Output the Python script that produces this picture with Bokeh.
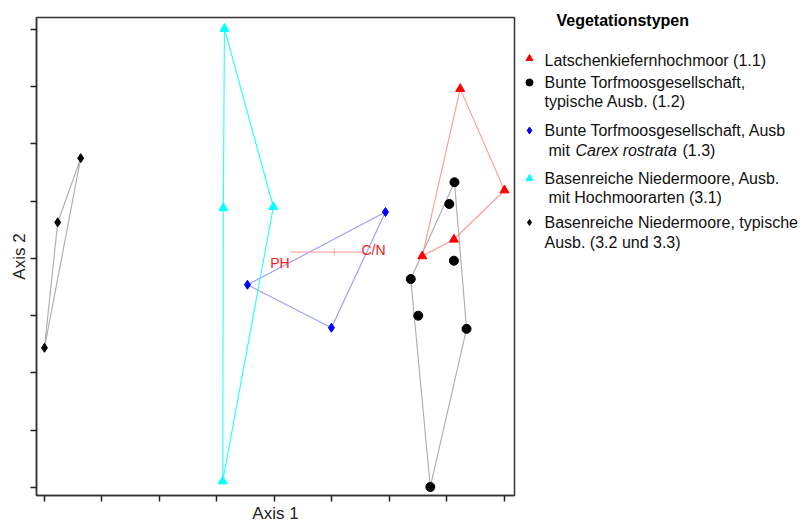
import numpy as np
from bokeh.plotting import figure
from bokeh.models import Range1d, FixedTicker, CustomJSTickFormatter
from bokeh.layouts import row, column
from bokeh.core.properties import value
from bokeh.embed import file_html
from bokeh.resources import INLINE

# ---------------- data (ordination scores) ----------------
# Latschenkiefernhochmoor (1.1)
lk_x = [7.23, 8.00, 7.12, 6.57]
lk_y = [6.96, 5.19, 4.33, 4.04]
lk_hull = [0, 1, 2, 3]
# Bunte Torfmoosgesellschaft, typische Ausb. (1.2)
bt_x = [7.13, 7.04, 7.12, 6.37, 6.50, 7.34, 6.71]
bt_y = [5.33, 4.95, 3.96, 3.64, 3.00, 2.77, 0.01]
bt_hull = [0, 5, 6, 3]
# Bunte Torfmoosgesellschaft, Ausb mit Carex rostrata (1.3)
cr_x = [5.93, 3.53, 4.99]
cr_y = [4.81, 3.54, 2.79]
cr_hull = [0, 1, 2]
# Basenreiche Niedermoore, Ausb. mit Hochmoorarten (3.1)
hm_x = [3.13, 3.11, 3.98, 3.10]
hm_y = [8.01, 4.88, 4.90, 0.11]
hm_hull = [0, 2, 3, 1]
# Basenreiche Niedermoore, typische Ausb. (3.2 und 3.3)
nt_x = [0.63, 0.23, 0.00]
nt_y = [5.75, 4.63, 2.44]
nt_hull = [0, 1, 2]

# environmental vectors (biplot)
env_origin = (5.04, 4.11)
env_names = ["PH", "C/N"]
env_end_x = [4.28, 5.53]
env_end_y = [4.11, 4.11]

ticks = [0, 1, 2, 3, 4, 5, 6, 7, 8]

FONT = "Liberation Sans"


def closed(xs, ys, order):
    ox = [xs[i] for i in order] + [xs[order[0]]]
    oy = [ys[i] for i in order] + [ys[order[0]]]
    return ox, oy


p = figure(width=520, height=525, output_backend="svg", toolbar_location=None,
           x_range=Range1d(-0.139, 8.174), y_range=Range1d(-0.139, 8.206),
           min_border_left=36, min_border_top=17, min_border_bottom=29,
           min_border_right=6, title=None)
p.grid.visible = False
p.outline_line_color = "#333333"
p.outline_line_width = 1.5
p.background_fill_color = "white"
p.border_fill_color = "white"

for ax in (p.xaxis[0], p.yaxis[0]):
    ax.ticker = FixedTicker(ticks=ticks)
    ax.formatter = CustomJSTickFormatter(code="return '';")
    ax.major_label_standoff = 0
    ax.major_tick_in = 0
    ax.major_tick_out = 6
    ax.minor_tick_in = 0
    ax.minor_tick_out = 0
    ax.axis_line_color = "#333333"
    ax.axis_line_width = 1.5
    ax.major_tick_line_color = "#222222"
    ax.major_tick_line_width = 1.5
    ax.axis_label_text_font = FONT
    ax.axis_label_text_font_size = "17px"
    ax.axis_label_text_font_style = "normal"
    ax.axis_label_text_color = "#222222"
    ax.axis_label_standoff = 2
p.xaxis.axis_label = "Axis 1"
p.yaxis.axis_label = "Axis 2"

# hull polygons
groups = [
    (lk_x, lk_y, lk_hull, "#ff9d9d", "red", "triangle", 9),
    (bt_x, bt_y, bt_hull, "#b0b0b0", "black", "circle", 9),
    (cr_x, cr_y, cr_hull, "#a0a0f0", "#0000ff", "diamond", 9),
    (hm_x, hm_y, hm_hull, "#33ffff", "#00ffff", "triangle", 9),
    (nt_x, nt_y, nt_hull, "#b0b0b0", "black", "diamond", 9),
]
for xs, ys, order, lc, mc, mk, sz in groups:
    hx, hy = closed(xs, ys, order)
    p.line(hx, hy, line_color=lc, line_width=1.2)
for xs, ys, order, lc, mc, mk, sz in groups:
    p.scatter(xs, ys, marker=mk, size=sz, fill_color=mc, line_color=mc)

# biplot vectors
for ex, ey in zip(env_end_x, env_end_y):
    p.line([env_origin[0], ex], [env_origin[1], ey], line_color="#ffaaaa", line_width=1.2)
p.scatter([env_origin[0]], [env_origin[1]], marker="dash", angle=np.pi / 2, size=7,
          line_color="#ffaaaa", line_width=1.2)
p.text([env_end_x[0]], [env_end_y[0]], text=[env_names[0]], text_align="right",
       text_baseline="top", y_offset=3, x_offset=-1, text_color="#ee2222",
       text_font=value(FONT), text_font_size="14px")
p.text([env_end_x[1]], [env_end_y[1]], text=[env_names[1]], text_align="left",
       text_baseline="alphabetic", y_offset=-2, x_offset=-1, text_color="#ee2222",
       text_font=value(FONT), text_font_size="14px")

# ---------------- legend panel (page-pixel coordinates) ----------------
leg_title = "Vegetationstypen"
leg_markers = ["triangle", "circle", "diamond", "triangle", "diamond"]
leg_colors = ["red", "black", "#0000ff", "#00ffff", "black"]
leg_marker_y = [58, 82, 130, 178, 222]

q = figure(width=289, height=525, output_backend="svg", toolbar_location=None,
           x_range=Range1d(0, 289), y_range=Range1d(525, 0),
           min_border=0, x_axis_type=None, y_axis_type=None, title=None)
q.grid.visible = False
q.outline_line_color = None
q.background_fill_color = "white"
q.border_fill_color = "white"

q.text([36], [20], text=[leg_title], text_font=value(FONT), text_font_style="bold",
       text_font_size="16px", text_baseline="middle", text_color="black")
q.scatter([9] * 5, leg_marker_y, marker=leg_markers, size=[7, 7, 7, 7, 6],
          fill_color=leg_colors, line_color=leg_colors)

normal_x = [24, 24, 24, 24, 28, 24, 28, 24, 24]
normal_y = [60, 82, 101, 130, 150, 178, 197, 222, 242]
normal_t = ["Latschenkiefernhochmoor (1.1)",
            "Bunte Torfmoosgesellschaft,",
            "typische Ausb. (1.2)",
            "Bunte Torfmoosgesellschaft, Ausb",
            "mit",
            "Basenreiche Niedermoore, Ausb.",
            "mit Hochmoorarten (3.1)",
            "Basenreiche Niedermoore, typische",
            "Ausb. (3.2 und 3.3)"]
q.text(normal_x, normal_y, text=normal_t, text_font=value(FONT),
       text_font_size="16px", text_baseline="middle", text_color="#111111")
q.text([55], [150], text=["Carex rostrata"], text_font=value(FONT),
       text_font_style="italic", text_font_size="16px", text_baseline="middle",
       text_color="#111111")
q.text([162], [150], text=["(1.3)"], text_font=value(FONT),
       text_font_size="16px", text_baseline="middle", text_color="#111111")

layout = row(p, column(q), spacing=0)
open("out.html", "w").write(file_html(layout, INLINE))
